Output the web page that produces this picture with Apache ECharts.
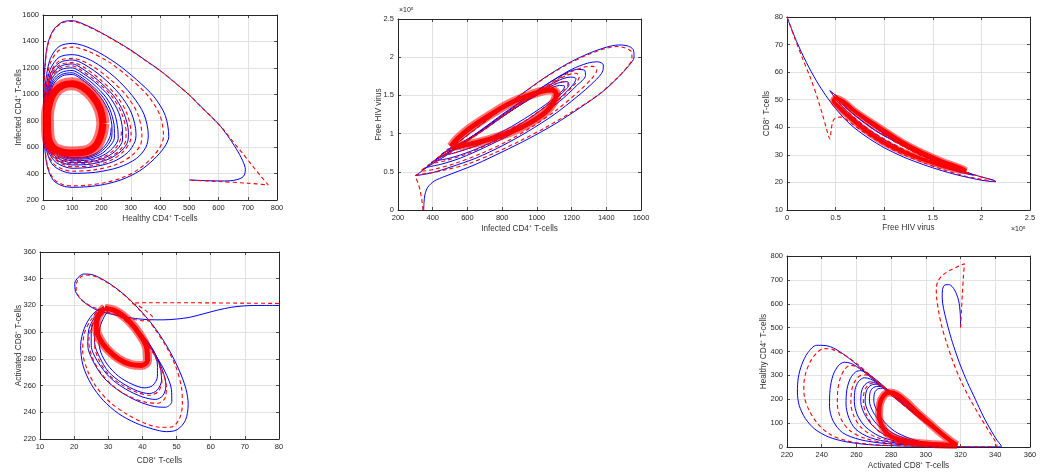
<!DOCTYPE html>
<html>
<head>
<meta charset="utf-8">
<script src="https://cdn.jsdelivr.net/npm/echarts@6/dist/echarts.min.js"></script>
<style>html,body{margin:0;padding:0;background:#fff}#c{width:1045px;height:474px}</style>
</head>
<body>
<div id="c"></div>
<script>
// ---------- Plot 1: Healthy CD4+ (x) vs Infected CD4+ (y) ----------
const p1Blue = [
[500,352],[560,346],[620,344],[660,352],[685,378],[692,430],[682,500],[660,590],[630,690],[600,775],[550,885],[500,995],[450,1090],[400,1180],[350,1258],[300,1335],[250,1402],[200,1465],[150,1520],[100,1557],[65,1545],[35,1485],[15,1370],[6,1200],[3,1000],[3,800],[6,600],[15,450],[35,350],[65,308],[100,296],[150,300],[210,318],[270,355],[330,420],[380,510],[415,600],
[430,680],[418,840],[380,980],[320,1110],[250,1235],[170,1340],[100,1385],[55,1362],[25,1270],[10,1110],[5,920],[6,720],[14,560],[38,455],[100,402],[180,410],[260,448],[320,515],[352,600],
[360,690],[345,850],[305,990],[245,1130],[170,1250],[100,1300],[55,1280],[25,1190],[11,1050],[7,880],[9,700],[19,565],[46,482],[100,440],[170,450],[240,490],[290,560],[314,640],
[318,700],[302,860],[262,1000],[203,1130],[140,1228],[100,1260],[57,1240],[27,1162],[13,1020],[9,860],[11,700],[21,575],[47,503],[100,465],[165,472],[225,510],[268,572],[290,645],
[292,712],[276,860],[241,990],[186,1110],[130,1200],[100,1230],[58,1210],[29,1140],[15,1010],[11,860],[13,712],[23,585],[49,518],[100,482],[160,488],[214,522],[253,582],[272,655],
[272,722],[259,860],[226,985],[176,1095],[125,1175],[100,1200],[60,1185],[31,1120],[17,1000],[13,860],[15,722],[25,598],[51,532],[100,497],[155,502],[204,536],[238,592],[257,665],
[256,732],[244,860],[216,975],[171,1080],[125,1155],[100,1180],[62,1165],[33,1105],[19,995],[15,860],[17,732],[27,607],[53,542],[100,508],[150,512],[196,545],[226,600],[244,670],
[244,739],[233,860],[208,970],[166,1068],[123,1140],[100,1163],[64,1150],[35,1094],[21,990],[17,860],[19,738],[29,614],[55,550],[100,516],[148,520],[189,552],[218,607],[235,676],
[236,744],[226,860],[201,965],[162,1060],[121,1130],[100,1150],[66,1139],[38,1085],[23,985],[19,860],[21,742],[31,620],[57,556],[100,522],[145,526],[184,557],[212,612],[229,680],[233,748]
];
const p1Red = [
[505,350],[600,340],[700,327],[770,314],[745,380],[712,470],[680,560],[650,640],[620,725],[580,820],[540,905],[500,995],[450,1090],[400,1180],[350,1256],[300,1332],[250,1400],[200,1462],[150,1516],[100,1552],[65,1540],[36,1482],[16,1368],[7,1200],[4,1000],[4,800],[7,600],[16,455],[37,358],[67,318],[100,307],[150,312],[210,330],[270,368],[325,430],[370,515],[400,600],
[412,682],[400,840],[360,985],[298,1120],[225,1245],[150,1330],[100,1357],[56,1335],[26,1242],[11,1090],[6,900],[8,705],[17,555],[42,462],[100,418],[175,428],[250,468],[303,535],[333,615],
[338,692],[324,850],[288,982],[230,1112],[162,1222],[100,1272],[56,1254],[27,1170],[13,1035],[9,870],[11,705],[21,570],[48,494],[100,452],[168,460],[232,500],[276,570],[298,645],
[301,706],[286,860],[251,990],[194,1115],[136,1210],[100,1240],[57,1222],[28,1150],[15,1015],[11,860],[13,706],[23,578],[49,510],[100,473],[162,480],[220,515],[262,576],[283,652],
[284,716],[268,860],[234,988],[181,1102],[127,1187],[100,1215],[59,1197],[30,1130],[16,1005],[12,860],[14,716],[24,590],[50,525],[100,490],[157,495],[209,528],[246,586],[265,660],[268,720]
];
const p1Band = [[205,780],[195,890],[170,985],[135,1055],[100,1080],[68,1068],[40,1020],[23,940],[15,830],[16,720],[23,635],[46,578],[95,556],[140,562],[176,600],[197,685],[205,780]];

// ---------- Plot 2: Infected CD4+ (x) vs Free HIV virus (y, x10^5) ----------
const p2Blue = [
[348,0],[350,0.1],[355,0.2],[372,0.3],[410,0.38],[470,0.44],[550,0.51],[650,0.6],[800,0.76],[950,0.93],[1100,1.12],[1250,1.34],[1380,1.55],[1470,1.74],[1530,1.89],[1560,2.0],[1555,2.1],[1520,2.15],[1470,2.16],[1400,2.13],[1300,2.05],[1180,1.92],[1050,1.74],[920,1.53],[800,1.33],[680,1.12],[560,0.91],[450,0.72],[370,0.57],[320,0.48],[300,0.45],
[320,0.455],[400,0.49],[500,0.56],[650,0.68],[800,0.84],[950,1.03],[1100,1.25],[1230,1.48],[1330,1.68],[1380,1.82],[1383,1.9],[1350,1.94],[1290,1.92],[1200,1.84],[1080,1.68],[950,1.48],[820,1.27],[690,1.06],[570,0.86],[460,0.69],[380,0.58],[345,0.53],
[370,0.56],[450,0.6],[560,0.68],[700,0.82],[850,0.99],[1000,1.2],[1130,1.42],[1230,1.63],[1280,1.76],[1275,1.83],[1230,1.84],[1150,1.77],[1040,1.62],[920,1.44],[800,1.25],[680,1.05],[560,0.86],[460,0.71],[390,0.62],
[410,0.64],[500,0.68],[620,0.77],[760,0.91],[900,1.08],[1040,1.29],[1150,1.5],[1215,1.66],[1225,1.72],[1195,1.74],[1130,1.7],[1030,1.57],[910,1.39],[790,1.2],[670,1.01],[560,0.85],[470,0.73],[420,0.67],
[440,0.7],[530,0.75],[650,0.84],[790,0.98],[930,1.16],[1060,1.37],[1150,1.54],[1185,1.64],[1175,1.68],[1120,1.66],[1020,1.54],[900,1.37],[780,1.19],[660,1.01],[560,0.87],[480,0.77],[450,0.73],
[470,0.76],[560,0.81],[680,0.9],[820,1.05],[960,1.24],[1080,1.43],[1150,1.57],[1160,1.62],[1130,1.63],[1060,1.57],[960,1.45],[840,1.28],[720,1.1],[610,0.94],[520,0.83],[480,0.79]
];
const p2Red = [
[344,0],[338,0.12],[328,0.25],[315,0.36],[303,0.43],[305,0.46],[340,0.47],[400,0.49],[480,0.53],[600,0.6],[750,0.74],[900,0.9],[1050,1.08],[1200,1.28],[1350,1.5],[1450,1.7],[1520,1.87],[1548,1.98],[1545,2.07],[1510,2.12],[1460,2.14],[1390,2.11],[1290,2.03],[1170,1.9],[1040,1.72],[910,1.51],[790,1.31],[670,1.1],[550,0.89],[440,0.7],[370,0.58],[330,0.51],
[345,0.51],[420,0.54],[530,0.61],[680,0.74],[830,0.9],[980,1.1],[1120,1.32],[1240,1.55],[1320,1.73],[1345,1.83],[1325,1.88],[1270,1.87],[1180,1.79],[1060,1.63],[930,1.43],[800,1.23],[680,1.03],[560,0.84],[460,0.69],[390,0.6],
[400,0.61],[480,0.65],[590,0.73],[730,0.87],[880,1.04],[1020,1.25],[1140,1.47],[1220,1.65],[1245,1.75],[1225,1.79],[1170,1.76],[1075,1.64],[950,1.46],[830,1.27],[710,1.07],[590,0.89],[490,0.75],[430,0.68],
[450,0.71],[540,0.76],[660,0.85],[800,1.0],[940,1.18],[1070,1.39],[1155,1.56],[1180,1.65],[1160,1.68],[1105,1.65],[1005,1.52],[885,1.35],[765,1.17],[650,0.99],[550,0.86],[480,0.77]
];
const p2Band = [[505,0.83],[600,0.855],[720,0.92],[850,1.02],[960,1.14],[1050,1.28],[1100,1.42],[1112,1.52],[1085,1.57],[1020,1.55],[930,1.48],[830,1.38],[720,1.23],[620,1.08],[545,0.94],[505,0.83]];

// ---------- Plot 3: Free HIV virus (x, x10^5) vs CD8+ (y) ----------
const p3Blue = [
[0,80],[0.1,71],[0.2,63.5],[0.3,57],[0.4,51.5],[0.5,46.8],[0.6,42.8],[0.7,39.6],[0.85,35.8],[1.0,32.6],[1.2,29.2],[1.4,26.5],[1.6,24.2],[1.8,22.3],[2.0,20.8],[2.1,20.35],[2.15,20.3],
[2.12,20.9],[2.0,22],[1.8,24.2],[1.6,26.8],[1.4,29.8],[1.2,33.3],[1.0,37.8],[0.85,41.3],[0.7,45.2],[0.58,49],[0.48,52.2],[0.44,53.3],
[0.47,51.8],[0.55,48.2],[0.7,43],[0.85,38.8],[1.0,35.5],[1.2,31.6],[1.4,28.3],[1.6,25.6],[1.8,23.5],[1.92,22.6],
[1.88,23.3],[1.7,25.3],[1.5,28],[1.3,31.3],[1.1,35.4],[0.9,40.2],[0.75,44],[0.62,47.6],[0.53,50.2],
[0.56,48.6],[0.7,44.2],[0.9,39],[1.1,35],[1.3,31.4],[1.5,28.2],[1.65,26.2],[1.78,24.7],
[1.72,25.6],[1.55,27.9],[1.35,30.9],[1.15,34.6],[0.95,39.2],[0.78,43.2],[0.64,47.2],[0.57,49.2],
[0.6,47.5],[0.75,43],[0.95,38],[1.15,34.2],[1.35,30.8],[1.55,27.8],[1.68,26],
[1.62,26.8],[1.45,29.3],[1.25,32.6],[1.05,36.8],[0.85,41.5],[0.7,45.5],[0.6,48.2]
];
const p3Red = [
[0,80],[0.08,72.3],[0.16,65],[0.24,58],[0.31,51],[0.37,44],[0.41,39],[0.44,35.8],[0.455,39],[0.47,42],[0.5,43.4],[0.55,43.7],[0.6,43],[0.66,41.5],[0.75,39.2],[0.9,35.7],[1.05,32.6],[1.2,30],[1.4,27.2],[1.6,24.7],[1.8,22.6],[2.0,21.1],[2.1,20.55],[2.13,20.5],
[2.1,21],[1.97,22.3],[1.78,24.4],[1.58,27],[1.38,30],[1.18,33.5],[0.98,38],[0.84,41.5],[0.7,45.3],[0.58,49],[0.49,52],[0.455,52.8],
[0.48,51.5],[0.56,48],[0.7,43.3],[0.86,38.8],[1.02,35.4],[1.22,31.6],[1.42,28.3],[1.62,25.6],[1.8,23.7],[1.88,23],
[1.84,23.6],[1.66,25.7],[1.46,28.4],[1.26,31.8],[1.06,35.8],[0.88,40.6],[0.73,44.4],[0.61,47.8],[0.54,50],
[0.58,48.2],[0.72,43.8],[0.92,38.6],[1.12,34.8],[1.32,31.2],[1.52,28],[1.68,25.8],[1.74,25.1],
[1.68,26],[1.5,28.5],[1.3,31.6],[1.1,35.4],[0.9,40],[0.74,44.2],[0.62,47.8]
];
const p3Band = [[0.5,48.5],[0.6,45],[0.75,40.5],[0.9,36.6],[1.0,34.4],[1.2,31],[1.4,28.3],[1.6,26],[1.75,24.7],[1.84,24.2],[1.78,25.3],[1.6,27.6],[1.4,30.7],[1.2,34.3],[1.0,38.8],[0.85,42.2],[0.7,45.8],[0.58,49.3],[0.5,50.5],[0.48,49.5],[0.5,48.5]];

// ---------- Plot 4: CD8+ (x) vs Activated CD8+ (y) ----------
const p4Blue = [
[80,320],[75,320],[70,319.7],[66,318.6],[62,316.5],[58,313.8],[54,311.2],[50,309.8],[46,309.2],[42,309.3],[38,310.2],[34,311.8],[30,314],[27,316.2],[24.5,319.5],[22,324.5],[20.4,330.5],[20.2,336.5],[21.2,341],[22.8,343.5],[25,343.2],[28,340],[32,333.5],[36,325],[40,314.5],[44,302],[47.5,288],[50.5,273],[52.7,258],[53.4,246],[52.6,234],[50.2,227],[47,225.5],[43,227.5],[38,232],[33,239],[28.5,249],[25,261],[22.6,275],[21.9,290],[23,303],[25.3,313],[28,317.6],
[31,316],[35,309],[39,299],[43,286],[46.5,271],[48.5,257],[48.6,248],[46.8,243.8],[43.5,244.3],[38.5,248.5],[33.5,255.5],[29,265],[25.8,277],[24,290],[24.3,302],[26,311],[28.4,317.2],
[31.5,315.5],[35.5,308.5],[39.5,298.5],[43.2,286],[45.8,272],[46.9,260],[46,252.5],[43.8,249.6],[40,251.5],[35,257.5],[30.5,266],[27,277.5],[25,290],[25,301.5],[26.6,310.5],[28.8,316.8],
[32,315],[36,308],[40,298],[43.3,286],[45.2,274],[45.6,264],[44.3,256.5],[42,254],[38.5,256],[34,262],[30,270.5],[27.5,281],[26,292],[26.2,302],[27.5,310.5],[29.3,316.5],
[32.5,314.5],[36.5,307.5],[40.2,297],[43,286],[44.4,275.5],[44.4,267],[43,260],[40.5,258.3],[37,261],[33,267],[29.8,275.5],[27.8,285],[27.2,295],[27.6,304],[28.8,311.5],[30,316]
];
const p4Red = [
[80,321.5],[70,321.7],[60,321.9],[50,322],[42,322],[37,321.5],[39,319.5],[41.5,315],[43,311],[42.3,309.2],[40.5,308.5],[37.5,309.5],[33.5,312],[29.5,315.2],[26,318.2],[23.5,321.5],[21.4,326.5],[20.6,332],[20.8,337.5],[21.9,341.3],[23.5,342.8],[25.5,342.3],[28.5,339],[32.2,332.8],[36,324.8],[39.8,314.8],[43.6,302.5],[47,289],[49.8,274],[51.4,259],[51.7,246],[50.8,235],[48.5,229],[45,228.8],[40.5,232],[35.5,238.5],[30.5,247.5],[26.5,259],[23.8,272],[22.5,286],[23,299],[25,309.5],[27.8,316.8],
[31,315.5],[35,308.5],[39,298.5],[42.7,286],[45.6,272],[47,259],[46.6,250.5],[44.5,246.8],[41,247.5],[36,252],[31.5,259.5],[27.8,269.5],[25.3,281],[24.3,293],[25,304],[26.8,312],[29,317.3],
[32,315.3],[36,308.2],[39.8,298],[43,286],[45.2,273],[45.7,262.5],[44.6,255.5],[42.2,252.8],[38.5,254.8],[34,260.5],[30,268.5],[27.3,279],[26,290],[26,300.5],[27.3,309.5],[29.3,316.4]
];
const p4Band = [[29,318],[32.5,315.5],[36.2,308],[39.3,298],[41.3,287.5],[41.5,279],[39.6,275],[36.5,275.8],[33,280],[29.8,287],[27.5,295],[26.5,303],[26.8,310.5],[28,315.8],[29,318]];

// ---------- Plot 5: Activated CD8+ (x) vs Healthy CD4+ (y) ----------
const p5Blue = [
[320,502],[319.8,560],[318.8,615],[316.5,658],[313.5,680],[311,679],[309.6,660],[309.4,625],[310.2,580],[311.8,530],[314,470],[316.8,405],[320,340],[324,270],[328.5,200],[333,130],[337.5,70],[341,28],[343.2,8],[343.5,2],[340,0.5],[330,0.5],[318,1.5],[300,2.5],[282,5],[267,10],[254,22],[244,42],[236,75],[230.5,120],[227,175],[226,230],[226.5,290],[228.5,345],[232,395],[237,426],[242,425],[248,410],[256,370],[265,315],[276,248],[286,185],[296,125],[305,75],[312,38],[316.5,14],[318,5],
[305,6],[290,9],[275,16],[262,31],[252,60],[246.5,110],[244.5,170],[244.8,240],[246.5,300],[249.5,340],[253,355],[257,350],[263,322],[271,275],[280,218],[289,165],[298,112],[306.5,66],[313,32],[317,12],[318,6],
[305,7],[292,11],[280,20],[268,39],[259.5,75],[255.5,125],[254,180],[254.5,240],[256.5,287],[259.5,314],[262.5,320],[266.5,308],[273,272],[281,220],[290,163],[299,110],[307.5,63],[314,30],[318,9],
[306,8],[294,13],[283,24],[273,46],[265,86],[260.5,135],[258.8,190],[259.2,240],[261.2,274],[264.5,290],[268,285],[274,258],[282,210],[291,155],[300,103],[309,58],[315.5,24],[318,10],
[306,9],[295,15],[285,28],[276,52],[269,92],[264.5,140],[262.5,190],[263,235],[265,262],[268,273],[271.5,266],[277,241],[285,190],[294,135],[303,84],[311,42],[316.5,16],[318,10],
[307,10],[296,17],[287,32],[278,58],[271.5,98],[267,145],[265,192],[265.8,235],[267.8,256],[270.8,263],[274,255],[280,228],[288,178],[297,122],[306,72],[313,34],[317,14],[318,10],
[307,11],[297,19],[288,36],[280,62],[274,102],[269.5,148],[267.5,192],[268,232],[270,250],[273,254],[276.5,246],[282,220],[290,170],[299,116],[308,66],[314.5,30],[318,12],
[307,12],[298,21],[290,38],[282,66],[276,106],[272,150],[270,192],[270.5,228],[272.5,244],[275,246],[278.5,238],[284,212],[292,162],[301,110],[309,62],[315,28],[318,12]
];
const p5Red = [
[320,500],[320.5,570],[321,640],[321.6,710],[322.2,768],[319,758],[314.5,742],[310,722],[307,695],[306,660],[306.3,620],[307.3,570],[309,510],[311.8,440],[315.5,360],[320,280],[325.5,200],[331,130],[336,70],[339.5,30],[341,8],[340.5,2],[332,1],[320,1.5],[300,3],[282,6],[267,12],[255,25],[245,52],[238,95],[233,150],[230,210],[229.7,260],[231,315],[234,365],[238,400],[241.5,412],[246,409],[252,390],[260,350],[268,300],[277,240],[287,178],[297,120],[306,70],[313,33],[317.5,12],[318,6],
[305,6],[291,10],[277,18],[265,36],[256,70],[251,120],[249,180],[249.2,235],[250.8,290],[253.5,328],[256.5,342],[260.5,335],[267,303],[276,245],[286,182],[296,123],[305.5,71],[312.5,34],[317,13],[318,7],
[306,7],[293,12],[282,22],[271,42],[263,80],[258.5,130],[256.8,185],[257.3,238],[259.2,276],[262,298],[265.5,302],[270,285],[277,245],[285,192],[294,136],[303,84],[311,42],[316.5,16],[318,8],
[306,8],[295,14],[285,26],[276,50],[269.5,90],[265.5,140],[264,190],[264.5,232],[266.5,258],[269.5,268],[273,261],[278.5,236],[286,186],[295,130],[304,80],[311.5,40],[316.5,15],[318,9]
];
const p5Band = [[318,8],[305,12],[293,19],[284,32],[278,55],[274.5,92],[273,135],[273.5,180],[275.5,213],[279,228],[283,221],[288.5,190],[295,145],[302,100],[309,56],[315,22],[318,8]];

// axis ranges [min, max, interval]
const axisX = [[0,800,100],[200,1600,200],[0,2.5,0.5],[10,80,10],[220,360,20]];
const axisY = [[200,1600,200],[0,2.5,0.5],[10,80,10],[220,360,20],[0,800,100]];
const xNames = ['Healthy CD4⁺ T-cells','Infected CD4⁺ T-cells','Free HIV virus','CD8⁺ T-cells','Activated CD8⁺ T-cells'];
const yNames = ['Infected CD4⁺ T-cells','Free HIV virus','CD8⁺ T-cells','Activated CD8⁺ T-cells','Healthy CD4⁺ T-cells'];

const blueData = [p1Blue,p2Blue,p3Blue,p4Blue,p5Blue];
const redData = [p1Red,p2Red,p3Red,p4Red,p5Red];
const bandData = [p1Band,p2Band,p3Band,p4Band,p5Band];

// layout
const grids = [
  {left:43, top:15, width:234, height:185},
  {left:398, top:19, width:243, height:191},
  {left:787, top:17, width:243, height:193},
  {left:40, top:252, width:239, height:187},
  {left:787, top:256, width:243, height:191}
];
const xGaps = [15, 15, 14, 18, 15];
const yGaps = [20, 15, 16, 17, 19];
const bandW = [13, 9, 7, 9, 8];

const FONT = '"Liberation Sans", Arial, Helvetica, sans-serif';
const AX = '#262626';
const fmt = v => String(+v.toFixed(6));
const xAxes = [], yAxes = [], series = [];
grids.forEach((g, i) => {
  const [xmin,xmax,xi] = axisX[i], [ymin,ymax,yi] = axisY[i];
  const common = (min,max,interval) => ({type:'value', min, max, interval, gridIndex:i,
    axisLine:{show:true, onZero:false, lineStyle:{color:AX, width:1}},
    axisTick:{show:true, inside:true, length:3, lineStyle:{color:AX, width:0.8}}});
  const lab = {fontSize:7.5, color:AX, margin:4, fontFamily:FONT, showMinLabel:true, showMaxLabel:true, formatter:fmt};
  const nm = {fontSize:8.2, color:'#333333', fontFamily:FONT};
  xAxes.push(Object.assign(common(xmin,xmax,xi), {position:'bottom',
    name:xNames[i], nameLocation:'middle', nameGap:xGaps[i], nameMoveOverlap:false, nameTextStyle:nm,
    axisLabel:lab, splitLine:{show:true, lineStyle:{color:'#e2e2e2', width:1}}}));
  xAxes.push(Object.assign(common(xmin,xmax,xi), {position:'top', axisLabel:{show:false}, splitLine:{show:false}}));
  yAxes.push(Object.assign(common(ymin,ymax,yi), {position:'left',
    name:yNames[i], nameLocation:'middle', nameGap:yGaps[i], nameMoveOverlap:false, nameTextStyle:nm,
    axisLabel:lab, splitLine:{show:true, lineStyle:{color:'#e2e2e2', width:1}}}));
  yAxes.push(Object.assign(common(ymin,ymax,yi), {position:'right', axisLabel:{show:false}, splitLine:{show:false}}));
  const base = {type:'line', xAxisIndex:2*i, yAxisIndex:2*i, symbol:'none', showSymbol:false, silent:true, clip:true, animation:false};
  series.push(Object.assign({}, base, {data:blueData[i], smooth:0.3, lineStyle:{color:'#0000ff', width:1}, z:2}));
  series.push(Object.assign({}, base, {data:redData[i], smooth:0.3, lineStyle:{color:'#ff0000', width:1.1, type:[4,3]}, z:3}));
  // limit-cycle band: soft fringe + solid core
  series.push(Object.assign({}, base, {data:bandData[i], smooth:0.4, lineStyle:{color:'#ff0000', width:bandW[i], opacity:0.55}, z:4}));
  series.push(Object.assign({}, base, {data:bandData[i], smooth:0.4, lineStyle:{color:'#ff0000', width:bandW[i]*0.55}, z:5}));
});

const chart = echarts.init(document.getElementById('c'), null, {renderer:'canvas'});
chart.setOption({
  animation:false,
  backgroundColor:'#ffffff',
  grid: grids.map(g => Object.assign({containLabel:false}, g)),
  xAxis: xAxes,
  yAxis: yAxes,
  series: series,
  graphic: [
    {type:'text', left:399, top:7, style:{text:'×10⁵', fontSize:7, fill:AX, fontFamily:FONT}},
    {type:'text', left:1011, top:226, style:{text:'×10⁵', fontSize:7, fill:AX, fontFamily:FONT}}
  ]
});
</script>
</body>
</html>
